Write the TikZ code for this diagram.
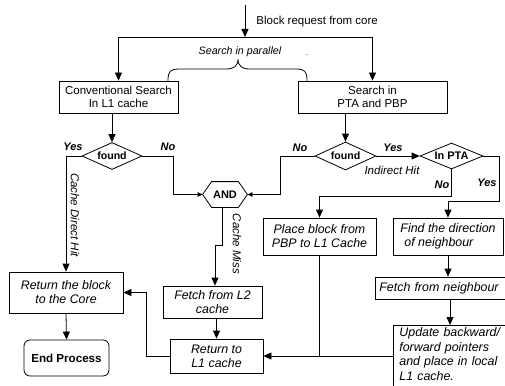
\documentclass[tikz,border=0pt]{standalone}
\usepackage{fontspec}
\setmainfont{Liberation Sans}
\usetikzlibrary{arrows.meta,calc,shapes.geometric}
\begin{document}
\begin{tikzpicture}[x=1pt,y=-1pt, line width=0.8pt,
  arr/.style={-{Triangle[length=8pt,width=7pt]}},
  sarr/.style={-{Triangle[length=5pt,width=4.5pt]}},
  rbx/.style={draw, inner sep=0pt, align=center, font=\fontsize{11.5}{12.7}\selectfont},
  ibx/.style={draw, inner sep=0pt, align=center, font=\fontsize{12.4}{14}\selectfont\itshape},
  dia/.style={draw, diamond, aspect=2.3, inner sep=0pt, font=\fontsize{10.6}{12}\selectfont\bfseries},
  lbl/.style={inner sep=0pt, font=\fontsize{11}{12}\selectfont\bfseries\itshape},
  ilbl/.style={inner sep=0pt, font=\fontsize{11.5}{12}\selectfont\itshape},
]
\clip (0,0) rectangle (505,385);
% top
\coordinate (top) at (245,5);
\coordinate (split) at (245,37);
\coordinate (cx) at (450,0);
\node[anchor=west, inner sep=0pt, font=\fontsize{11.5}{12}\selectfont] (req) at (256,22) {Block request from core};
\node[rbx, minimum width=119, minimum height=32] (conv) at (118.5,97) {Conventional Search\\In L1 cache};
\node[rbx, minimum width=149, minimum height=32] (pta) at (372.5,97) {Search in\\PTA and PBP};
\draw[arr] (top) -- (split);
\draw[arr] (split) -| (conv.north);
\draw[arr] (split) -| (pta.north);
% brace
\draw (168,81) .. controls (168,71) and (170,69) .. (180,69) -- (226,69)
  .. controls (234,69) and (238,66) .. (238,59)
  .. controls (238,66) and (242,69) .. (250,69) -- (295,69)
  .. controls (305,69) and (307,71) .. (307,81);
\node[ilbl, font=\fontsize{10.7}{12}\selectfont\itshape] (par) at (240,52) {Search in parallel};
\node[inner sep=0pt, font=\fontsize{8}{9}\selectfont] (dot) at (307,55) {.};
% left decision
\node[dia, minimum width=60, minimum height=27] (found1) at (112,156) {found};
\draw[arr] (conv.south -| found1.north) -- (found1.north);
\node[lbl] (yes1) at (73,147) {Yes};
\node[lbl] (no1) at (168,147) {No};
\node[ibx, minimum width=114, minimum height=41] (ret) at (66,292.5) {Return the block\\to the Core};
\draw[arr] (found1.west) -| (ret.north);
\node[ilbl, rotate=-90] (cdh) at (75,215) {Cache Direct Hit};
% AND
\node[inner sep=0pt, minimum width=44, minimum height=25, font=\fontsize{11}{12}\selectfont\bfseries] (and) at (225,194.5) {AND};
\draw ([xshift=9pt]and.north west) -- ([xshift=-9pt]and.north east) -- (and.east)
  -- ([xshift=-9pt]and.south east) -- ([xshift=9pt]and.south west) -- (and.west) -- cycle;
\draw[sarr] (found1.east) -- ++(31,0) |- (and.west);
% right decision
\node[dia, minimum width=61, minimum height=28] (found2) at (345.5,156) {found};
\draw[arr] (pta.south -| found2.north) -- (found2.north);
\draw[sarr] (found2.west) -- ++(-34,0) |- (and.east);
\node[lbl] (no2) at (300,148) {No};
\node[lbl] (yes2) at (393,148) {Yes};
\node[ilbl] (ih) at (392,170) {Indirect Hit};
\node[dia, minimum width=63, minimum height=26, font=\fontsize{11}{12}\selectfont\bfseries] (inpta) at (451.5,156) {In PTA};
\draw[arr] (found2.east) -- (inpta.west);
\node[ibx, minimum width=113, minimum height=37] (place) at (319.5,236.5) {Place block from\\PBP to L1 Cache};
\node[ibx, minimum width=110, minimum height=37, align=left] (find) at (448,236.5) {Find the direction\\\hspace{4pt}of neighbour};
\draw[arr] (inpta.south) -- ++(0,26.5) -| (place.north);
\draw[arr] (inpta.east) -- ++(16,0) -- ++(0,45) -| (find.north);
\node[lbl] (no3) at (442,185) {No};
\node[lbl] (yes3) at (487,183) {Yes};
% neighbour chain
\node[ibx, anchor=west, text width=127pt, inner xsep=4pt, minimum height=22, align=left] (fetchn) at (375,288) {Fetch from neighbour};
\draw[arr] (find.south) -- (find.south |- fetchn.north);
\node[ibx, anchor=north west, text width=102pt, inner xsep=6pt, inner ysep=2.5pt, align=left, font=\fontsize{12.4}{14.5}\selectfont\itshape] (upd) at (393,325) {Update backward/\\forward pointers\\and place in local\\L1 cache.\rule[-30pt]{0pt}{0pt}};
\draw[arr] (fetchn.south -| cx) -- (upd.north -| cx);
% L2 path
\node[ibx, minimum width=99, minimum height=32] (fetchl2) at (212.5,302) {Fetch from L2\\cache};
\node[ibx, minimum width=93, minimum height=34] (retl1) at (216.5,356) {Return to\\L1 cache};
\draw[arr] ([xshift=-3pt]and.south) -- ++(0,38) -| ([xshift=2.5pt]fetchl2.north);
\node[ilbl, rotate=-90] (cm) at (237,244) {Cache Miss};
\draw[arr] (fetchl2.south -| retl1.north) -- (retl1.north);
\draw[arr] (retl1.west) -- ++(-23,0) |- (ret.east);
\draw[arr] (upd.west |- retl1.east) -- (retl1.east);
\draw (place.south) -- (place.south |- retl1.east);
% end
\node[draw, rounded corners=6pt, minimum width=85, minimum height=36, inner sep=0pt, font=\fontsize{11.6}{12}\selectfont\bfseries] (endp) at (66.5,358) {End Process};
\draw[arr] (ret.south) -- (endp.north);
\end{tikzpicture}
\end{document}
